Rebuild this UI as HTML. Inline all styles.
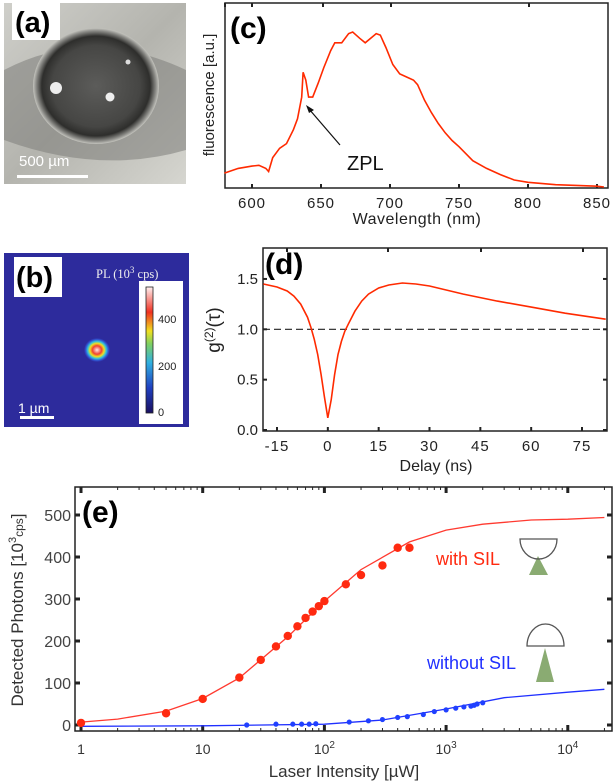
<!DOCTYPE html>
<html><head><meta charset="utf-8"><style>
html,body{margin:0;padding:0;background:#fff;}
svg{display:block;font-family:"Liberation Sans",sans-serif;}
</style></head><body>
<svg id="fig" width="615" height="781" viewBox="0 0 615 781">
<defs>
<linearGradient id="photoBg" x1="0" y1="0" x2="1" y2="1">
<stop offset="0" stop-color="#cfcfca"/><stop offset="0.5" stop-color="#b4b4ae"/><stop offset="1" stop-color="#d6d6d0"/></linearGradient>
<radialGradient id="sphere" cx="0.5" cy="0.5" r="0.5">
<stop offset="0" stop-color="#5c5c5a"/><stop offset="0.7" stop-color="#464644"/><stop offset="0.86" stop-color="#2e2e2c"/><stop offset="0.95" stop-color="#8a8a86"/><stop offset="1" stop-color="#c4c4be"/></radialGradient>
<linearGradient id="cbar" x1="0" y1="1" x2="0" y2="0">
<stop offset="0" stop-color="#1a1060"/><stop offset="0.2" stop-color="#2040c0"/><stop offset="0.4" stop-color="#30b0e0"/><stop offset="0.55" stop-color="#80d060"/><stop offset="0.65" stop-color="#f0e020"/><stop offset="0.8" stop-color="#f03020"/><stop offset="1" stop-color="#fff0f0"/></linearGradient>
<radialGradient id="spot" cx="0.5" cy="0.5" r="0.5">
<stop offset="0" stop-color="#ffe8e8"/><stop offset="0.35" stop-color="#f04030"/><stop offset="0.55" stop-color="#f0e020"/><stop offset="0.72" stop-color="#30c0e0"/><stop offset="0.88" stop-color="#3050d0"/><stop offset="1" stop-color="#2d2b9c"/></radialGradient>
</defs>

<g>
<rect x="4" y="3" width="182" height="181" fill="url(#photoBg)"/>
<path d="M4 70 Q90 25 186 70 L186 150 Q100 175 4 140Z" fill="#7e7e7a" opacity="0.55"/>
<ellipse cx="96" cy="86" rx="63" ry="58" fill="url(#sphere)"/>
<circle cx="56" cy="88" r="6" fill="#fff" opacity="0.9"/>
<circle cx="110" cy="97" r="4.5" fill="#fff" opacity="0.9"/>
<circle cx="128" cy="62" r="2.5" fill="#ddd"/>
<rect x="12" y="3" width="48" height="37" fill="#fff"/>
<text x="15" y="32" font-size="29" font-weight="bold">(a)</text>
<text x="19" y="166" font-size="15" fill="#fff">500 µm</text>
<rect x="17" y="175" width="71" height="3" fill="#fff"/>
</g>

<g>
<rect x="4" y="253" width="185" height="174" fill="#2d2b9c"/>
<ellipse cx="97" cy="350" rx="13" ry="12" fill="url(#spot)"/>
<rect x="14" y="257" width="48" height="40" fill="#fff"/>
<text x="16" y="287" font-size="29" font-weight="bold">(b)</text>
<text x="96" y="278" font-size="12.5" fill="#eee" font-family="Liberation Serif,serif">PL (10<tspan dy="-5" font-size="9">3</tspan><tspan dy="5"> cps)</tspan></text>
<rect x="139" y="281" width="44" height="143" fill="#fff"/>
<rect x="146" y="287" width="7" height="126" fill="url(#cbar)" stroke="#222" stroke-width="0.8"/>
<g font-size="11" fill="#222"><text x="158" y="323">400</text><text x="158" y="370">200</text><text x="158" y="416">0</text></g>
<text x="18" y="413" font-size="14" fill="#fff">1 µm</text>
<rect x="20" y="416" width="34" height="3" fill="#fff"/>
</g>

<g id="pc"></g>
<g id="pd"></g>
<g id="pe"></g>
</svg>
<script>
const specWl = [580,590,600,605,610,612,615,620,625,630,633,636,637,639,641,644,648,652,657,660,665,670,673,678,682,686,690,693,697,702,707,712,717,720,725,730,735,740,745,750,760,770,780,790,800,820,850,855];
const specVal = [0.09,0.12,0.135,0.14,0.12,0.1,0.19,0.25,0.28,0.37,0.44,0.58,0.74,0.69,0.58,0.58,0.67,0.77,0.88,0.93,0.93,0.99,1.0,0.96,0.93,0.96,0.99,0.98,0.9,0.79,0.73,0.71,0.69,0.66,0.56,0.48,0.41,0.35,0.30,0.26,0.17,0.12,0.08,0.045,0.03,0.015,0.005,0.0];
const specTicks = [600,650,700,750,800,850];
const g2Tau = [-19,-15,-12,-10,-8,-6,-5,-4,-3,-2,-1,0,1,2,3,4,5,6,8,10,12,15,18,22,26,30,40,50,60,70,82];
const g2Val = [1.45,1.42,1.38,1.33,1.25,1.12,1.02,0.9,0.75,0.55,0.33,0.12,0.3,0.55,0.75,0.88,0.98,1.05,1.18,1.28,1.35,1.41,1.44,1.46,1.45,1.43,1.35,1.28,1.22,1.16,1.1];
const g2XTicks = [-15,0,15,30,45,60,75];
const g2YTicks = [0.0,0.5,1.0,1.5];
const silI = [1,5,10,20,30,40,50,60,70,80,90,100,150,200,300,400,500];
const silP = [5,28,62,113,155,187,212,235,255,270,283,295,335,357,380,422,422];
const silFitI = [1,2,5,10,20,50,100,200,500,1000,2000,5000,10000,20000];
const silFitP = [7,14,33,63,112,210,295,370,436,464,478,488,490,494];
const noI = [23,40,55,65,75,85,160,230,300,400,480,650,800,1000,1200,1400,1600,1700,1800,2000];
const noP = [0,2,2,2,2,3,7,10,13,18,20,25,32,36,40,43,45,47,50,53];
const noFitI = [1,10,100,300,1000,3000,10000,20000];
const noFitP = [-3,-2,2,12,38,65,78,85];
const eYTicks = [0,100,200,300,400,500];
const eXTicks = [1,10,100,1000,10000];
const eXTickLabels = ["1","10","10^2","10^3","10^4"];

const NS="http://www.w3.org/2000/svg";
function mk(parent,tag,attrs,txt){const e=document.createElementNS(NS,tag);for(const k in attrs)e.setAttribute(k,attrs[k]);if(txt!==undefined)e.textContent=txt;parent.appendChild(e);return e;}

(function(){
const g=document.getElementById('pc');
const L=225,R=608,T=3,B=188;
const x=w=>252+(w-600)*1.38, y=v=>B-1-v*155;
const box=mk(g,'rect',{x:L,y:T,width:R-L,height:B-T,fill:'none',stroke:'#222','stroke-width':1.5});

specTicks.forEach(t=>{mk(g,'line',{x1:x(t),x2:x(t),y1:B,y2:B-4,stroke:'#222','stroke-width':2});
const tl=mk(g,'text',{x:x(t),y:B+20,'font-size':15,'text-anchor':'middle',fill:'#222','letter-spacing':'1'},t);
});
[225,252,323,391,529].forEach(px=>mk(g,'line',{x1:px,x2:px,y1:T,y2:T+4,stroke:'#222','stroke-width':2}));
const d=specWl.map((w,i)=>(i?'L':'M')+x(w).toFixed(1)+' '+y(specVal[i]).toFixed(1)).join(' ');
const p=mk(g,'path',{d:d,fill:'none',stroke:'#ff2a00','stroke-width':1.6});

const xl=mk(g,'text',{x:417,y:224,'font-size':16,'text-anchor':'middle',fill:'#222','letter-spacing':'0.5'},'Wavelength (nm)');

const yl=mk(g,'text',{x:0,y:0,'font-size':15,'text-anchor':'middle',fill:'#222',transform:'translate(214,95) rotate(-90)'},'fluorescence [a.u.]');

const lb=mk(g,'text',{x:230,y:38,'font-size':30,'font-weight':'bold'},'(c)');

mk(g,'line',{x1:340,y1:145,x2:309,y2:109,stroke:'#111','stroke-width':1.2});
mk(g,'path',{d:'M306 105 L314 110 L309 113Z',fill:'#111'});
const z=mk(g,'text',{x:347,y:170,'font-size':20,fill:'#111'},'ZPL');

})();

(function(){
const g=document.getElementById('pd');
const L=263,R=607,T=248,B=431;
const x=t=>277+(t+15)*3.389, y=v=>430-v*100.7;
const box=mk(g,'rect',{x:L,y:T,width:R-L,height:B-T,fill:'none',stroke:'#222','stroke-width':1.5});

g2XTicks.forEach(t=>{mk(g,'line',{x1:x(t),x2:x(t),y1:B,y2:B-4,stroke:'#222','stroke-width':2});
const tl=mk(g,'text',{x:x(t),y:B+20,'font-size':15,'text-anchor':'middle',fill:'#222','letter-spacing':'1'},t);
});
[287,388,481,583].forEach(px=>mk(g,'line',{x1:px,x2:px,y1:T,y2:T+4,stroke:'#222','stroke-width':2}));
g2YTicks.forEach(v=>{mk(g,'line',{x1:L,x2:L+4,y1:y(v),y2:y(v),stroke:'#222','stroke-width':2});
mk(g,'line',{x1:R,x2:R-4,y1:y(v),y2:y(v),stroke:'#222','stroke-width':2});
const tl=mk(g,'text',{x:L-5,y:y(v)+5,'font-size':15,'text-anchor':'end',fill:'#222'},v.toFixed(1));
});
const ref=mk(g,'line',{x1:L,x2:R,y1:y(1),y2:y(1),stroke:'#222','stroke-width':1.2,'stroke-dasharray':'7,4'});

const d=g2Tau.map((t,i)=>(i?'L':'M')+Math.max(L,x(t)).toFixed(1)+' '+y(g2Val[i]).toFixed(1)).join(' ');
const p=mk(g,'path',{d:d,fill:'none',stroke:'#ff2a00','stroke-width':1.6});

const xl=mk(g,'text',{x:436,y:471,'font-size':16,'text-anchor':'middle',fill:'#222'},'Delay (ns)');

const yl=mk(g,'text',{x:0,y:0,'font-size':19,'text-anchor':'middle',fill:'#222',transform:'translate(220,330) rotate(-90)'});
yl.innerHTML='g<tspan dy="-7" font-size="12">(2)</tspan><tspan dy="7">(τ)</tspan>';

const lb=mk(g,'text',{x:265,y:274,'font-size':30,'font-weight':'bold'},'(d)');

})();

(function(){
const g=document.getElementById('pe');
const L=75,R=612,T=487,B=731;
const x=i=>81+Math.log10(i)*121.7, y=v=>725-v*0.42;
const box=mk(g,'rect',{x:L,y:T,width:R-L,height:B-T,fill:'none',stroke:'#222','stroke-width':1.5});

for(let dec=0;dec<5;dec++)for(let m=1;m<10;m++){const v=m*Math.pow(10,dec);const px=x(v);if(px>R)continue;
const len=m===1?6:3;
mk(g,'line',{x1:px,x2:px,y1:B,y2:B-len,stroke:'#222','stroke-width':m===1?3:1});
mk(g,'line',{x1:px,x2:px,y1:T,y2:T+len,stroke:'#222','stroke-width':m===1?3:1});}
eXTicks.forEach((t,i)=>{const lab=eXTickLabels[i];const tl=mk(g,'text',{x:x(t),y:754,'font-size':14,'text-anchor':'middle',fill:'#333'});
if(lab.indexOf('^')>0){const [b,e]=lab.split('^');tl.innerHTML=b+'<tspan dy="-6" font-size="10">'+e+'</tspan>';}else tl.textContent=lab;
});
eYTicks.forEach(v=>{mk(g,'line',{x1:L,x2:L+5,y1:y(v),y2:y(v),stroke:'#222','stroke-width':3});
mk(g,'line',{x1:R,x2:R-5,y1:y(v),y2:y(v),stroke:'#222','stroke-width':3});
const tl=mk(g,'text',{x:L-4,y:y(v)+6,'font-size':16,'text-anchor':'end',fill:'#444'},v);
});
const line=(xs,ys,col,name)=>{const d=xs.map((v,i)=>(i?'L':'M')+x(v).toFixed(1)+' '+y(ys[i]).toFixed(1)).join(' ');
const p=mk(g,'path',{d:d,fill:'none',stroke:col,'stroke-width':1.3});};
line(silFitI,silFitP,'#ff3a30','fit-with-sil');
line(noFitI,noFitP,'#2030ff','fit-without-sil');
silI.forEach((v,i)=>{const c=mk(g,'circle',{cx:x(v),cy:y(silP[i]),r:4.2,fill:'#ff2a10'});
});
noI.forEach((v,i)=>{const c=mk(g,'circle',{cx:x(v),cy:y(noP[i]),r:2.6,fill:'#2040ff'});
});
const a=mk(g,'text',{x:436,y:565,'font-size':18,fill:'#ff2a10'},'with SIL');

const b=mk(g,'text',{x:427,y:669,'font-size':18,fill:'#2030ff'},'without SIL');

mk(g,'path',{d:'M529 575 L538 556 L548 575Z',fill:'#8aab72'});
mk(g,'path',{d:'M520 539 L557 539 A18.5 20 0 0 1 520 539Z',fill:'none',stroke:'#555','stroke-width':1.3});
mk(g,'path',{d:'M536 682 L545 648 L554 682Z',fill:'#8aab72'});
mk(g,'path',{d:'M527 646 A18.5 22 0 0 1 564 646Z',fill:'none',stroke:'#555','stroke-width':1.3});
const xl=mk(g,'text',{x:344,y:777,'font-size':17,'text-anchor':'middle',fill:'#333'},'Laser Intensity [µW]');

const yl=mk(g,'text',{x:0,y:0,'font-size':17,'text-anchor':'middle',fill:'#333',transform:'translate(23,610) rotate(-90)'});
yl.innerHTML='Detected Photons [10<tspan dy="-7" font-size="11">3</tspan><tspan dy="7" font-size="12">cps</tspan>]';

const lb=mk(g,'text',{x:82,y:522,'font-size':30,'font-weight':'bold'},'(e)');

})();
</script>
</body></html>
